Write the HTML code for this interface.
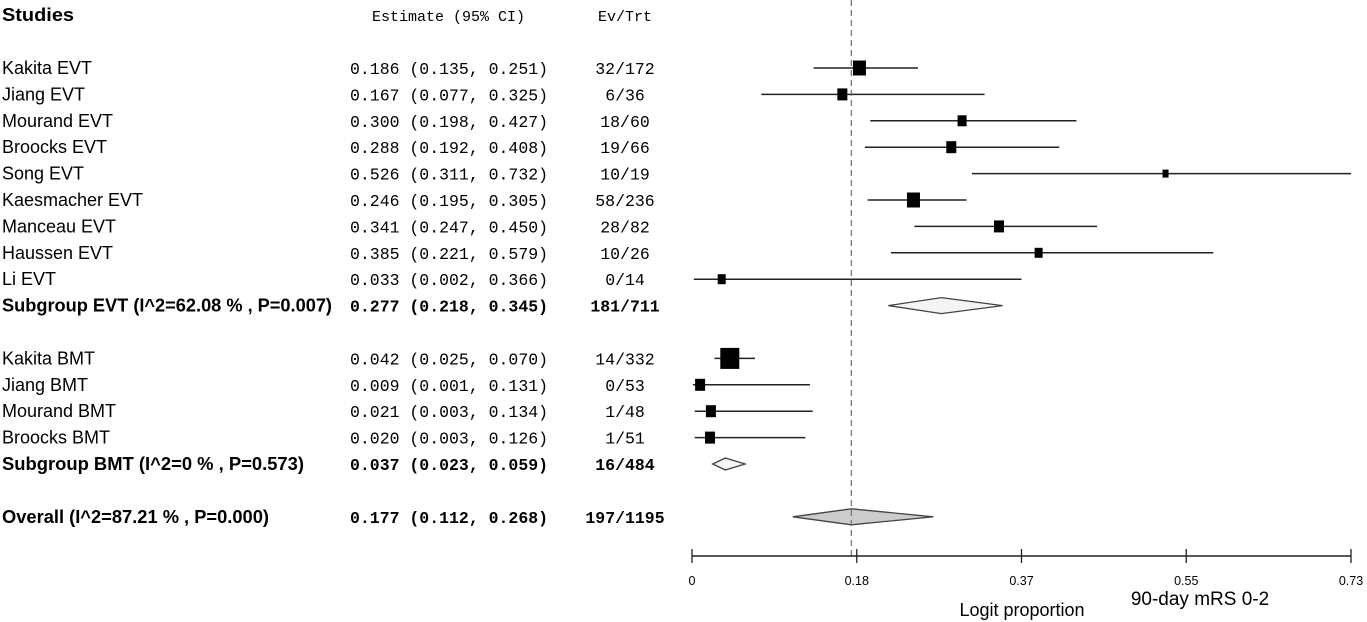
<!DOCTYPE html>
<html><head><meta charset="utf-8"><style>
html,body{margin:0;padding:0;background:#fff;}
svg{display:block;}
.lab{font-family:"Liberation Sans",sans-serif;font-size:18px;fill:#000;}
.mono{font-family:"Liberation Mono",monospace;font-size:16.5px;fill:#000;}
.b{font-weight:bold;}
.tick{font-family:"Liberation Sans",sans-serif;font-size:12.5px;fill:#000;}
</style></head><body>
<svg id="chart" width="1367" height="622" viewBox="0 0 1367 622">
<text x="2" y="21" class="lab b" textLength="72" lengthAdjust="spacingAndGlyphs">Studies</text>
<text x="372" y="21" class="mono" style="font-size:15px">Estimate (95% CI)</text>
<text x="625" y="21" text-anchor="middle" class="mono" style="font-size:15px">Ev/Trt</text>
<g id="rows"></g>
<g id="marks"></g>
<g id="axis"></g>
<text x="1022" y="616" text-anchor="middle" class="lab">Logit proportion</text>
<text x="1200" y="605" text-anchor="middle" class="lab" style="font-size:19px">90-day mRS 0-2</text>
</svg>
<script>
const studies=["Kakita EVT","Jiang EVT","Mourand EVT","Broocks EVT","Song EVT","Kaesmacher EVT","Manceau EVT","Haussen EVT","Li EVT","Kakita BMT","Jiang BMT","Mourand BMT","Broocks BMT"];
const est=[0.186,0.167,0.300,0.288,0.526,0.246,0.341,0.385,0.033,0.042,0.009,0.021,0.020];
const lo=[0.135,0.077,0.198,0.192,0.311,0.195,0.247,0.221,0.002,0.025,0.001,0.003,0.003];
const hi=[0.251,0.325,0.427,0.408,0.732,0.305,0.450,0.579,0.366,0.070,0.131,0.134,0.126];
const evTrt=["32/172","6/36","18/60","19/66","10/19","58/236","28/82","10/26","0/14","14/332","0/53","1/48","1/51"];
const boxSize=[13,10,9,10,6,13,10,8,8,19,10,10,10];
const studyRow=[0,1,2,3,4,5,6,7,8,11,12,13,14];
const summaryLabels=["Subgroup EVT (I^2=62.08 % , P=0.007)","Subgroup BMT (I^2=0 % , P=0.573)","Overall (I^2=87.21 % , P=0.000)"];
const sumEst=[0.277,0.037,0.177];
const sumLo=[0.218,0.023,0.112];
const sumHi=[0.345,0.059,0.268];
const sumEv=["181/711","16/484","197/1195"];
const sumRow=[9,15,17];
const sumFill=["#f4f4f4","#f4f4f4","#cccccc"];
const sumHalf=[8,6,8];
const sumLabelWidth=[330,302,267];
const ticks=[0,0.183,0.366,0.549,0.732];
const tickLabels=["0","0.18","0.37","0.55","0.73"];
const overallRef=0.177;

const X0=692,X1=1351,xmax=0.732;
const xs=v=>X0+(v/xmax)*(X1-X0);
const ys=r=>68+r*26.4;
const NS="http://www.w3.org/2000/svg";
function mk(tag,attrs,parent,txt){const e=document.createElementNS(NS,tag);for(const k in attrs)e.setAttribute(k,attrs[k]);if(txt!==undefined)e.textContent=txt;parent.appendChild(e);return e;}
const rows=document.getElementById('rows'),marks=document.getElementById('marks'),axis=document.getElementById('axis');
const f=v=>v.toFixed(3);
studies.forEach((s,i)=>{
  const y=ys(studyRow[i]);
  const t=mk('text',{x:2,y:y+6,class:'lab'},rows,s);
  
  
  const e=mk('text',{x:350,y:y+6,class:'mono'},rows,f(est[i])+" ("+f(lo[i])+", "+f(hi[i])+")");
  
  
  const n=mk('text',{x:625,y:y+6,'text-anchor':'middle',class:'mono'},rows,evTrt[i]);
  
  
  const l=mk('line',{x1:xs(lo[i]),x2:xs(hi[i]),y1:y,y2:y,stroke:'#222','stroke-width':1.5},marks);
  
  
  const b=boxSize[i];
  const r=mk('rect',{x:xs(est[i])-b/2,y:y-b/2-1,width:b,height:b+2,fill:'#000'},marks);
  
  
});
summaryLabels.forEach((s,i)=>{
  const y=ys(sumRow[i]);
  const t=mk('text',{x:2,y:y+6,class:'lab b',textLength:sumLabelWidth[i],lengthAdjust:'spacingAndGlyphs'},rows,s);
  
  
  const e=mk('text',{x:350,y:y+6,class:'mono b'},rows,f(sumEst[i])+" ("+f(sumLo[i])+", "+f(sumHi[i])+")");
  
  
  const n=mk('text',{x:625,y:y+6,'text-anchor':'middle',class:'mono b'},rows,sumEv[i]);
  
  
  const h=sumHalf[i];
  const p=mk('polygon',{points:`${xs(sumLo[i])},${y} ${xs(sumEst[i])},${y-h} ${xs(sumHi[i])},${y} ${xs(sumEst[i])},${y+h}`,fill:sumFill[i],stroke:'#444','stroke-width':1.3},marks);
  
  
});
const ref=mk('line',{x1:xs(overallRef),x2:xs(overallRef),y1:0,y2:556,stroke:'#777','stroke-width':1.3,'stroke-dasharray':'6,4'},marks);


const ax=mk('line',{x1:X0,x2:X1,y1:556,y2:556,stroke:'#222','stroke-width':1.5},axis);


ticks.forEach((v,i)=>{
  const tk=mk('line',{x1:xs(v),x2:xs(v),y1:549,y2:563,stroke:'#222','stroke-width':1.3},axis);
  
  
  const tl=mk('text',{x:xs(v),y:585,'text-anchor':'middle',class:'tick'},axis,tickLabels[i]);
  
  
});
</script>
</body></html>
